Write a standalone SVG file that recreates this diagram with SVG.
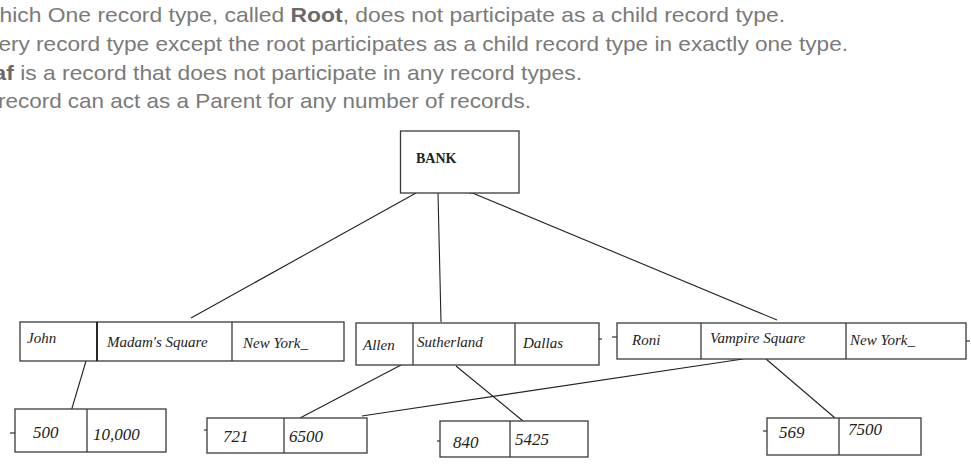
<svg xmlns="http://www.w3.org/2000/svg" width="971" height="466" viewBox="0 0 971 466">
<style>
.hdr{font-family:"Liberation Sans",Arial,sans-serif;font-size:21px;fill:#7a7a7a}
.hdr .b{font-weight:bold;fill:#6a6a6a}
.box{fill:#fff;stroke:#3a3a3a;stroke-width:1.3}
.div{stroke:#3a3a3a;stroke-width:1.3}
.cell{font-family:"Liberation Serif","Times New Roman",serif;font-style:italic;font-size:15px;fill:#222}
.num{font-family:"Liberation Serif","Times New Roman",serif;font-style:italic;font-size:17px;fill:#222}
.bank{font-family:"Liberation Serif","Times New Roman",serif;font-weight:bold;font-size:14px;fill:#222}
.con{stroke:#222;stroke-width:1.1;fill:none}
.tick{stroke:#333;stroke-width:1.2}
</style>
<rect width="971" height="466" fill="#fff"/>
<g id="intro">
<text class="hdr" x="-17" y="22" textLength="802" lengthAdjust="spacingAndGlyphs">which One record type, called <tspan class="b">Root</tspan>, does not participate as a child  record type.</text>
<text class="hdr" x="-28" y="51" textLength="876" lengthAdjust="spacingAndGlyphs">Every record type except the root participates as a child record type in exactly one type.</text>
<text class="hdr" x="-33" y="80" textLength="615" lengthAdjust="spacingAndGlyphs"><tspan class="b">Leaf</tspan> is a record that does not participate in any record types.</text>
<text class="hdr" x="-22" y="108" textLength="553" lengthAdjust="spacingAndGlyphs">A record can act as a Parent for any number of records.</text>
</g>
<g id="connectors">
<line class="con" x1="416" y1="193" x2="191" y2="318"/>
<line class="con" x1="438" y1="193" x2="441" y2="322"/>
<line class="con" x1="470" y1="192" x2="777" y2="320"/>
<line class="con" x1="466" y1="188" x2="471" y2="194"/>
<line class="con" x1="86" y1="361" x2="70" y2="415"/>
<line class="con" x1="401" y1="365" x2="300" y2="418"/>
<line class="con" x1="456" y1="366" x2="523" y2="421"/>
<polyline class="con" points="743,359 375,414 362,416"/>
<line class="con" x1="766" y1="359" x2="835" y2="418"/>
</g>
<g id="bank">
<rect class="box" x="400.5" y="131" width="118.5" height="62"/>
<text class="bank" x="416" y="163">BANK</text>
</g>
<g id="john">
<rect class="box" x="20" y="322" width="324" height="39"/>
<line class="div" x1="97" y1="322" x2="97" y2="361" style="stroke-width:1.8;stroke:#111"/>
<line class="div" x1="232" y1="322" x2="232" y2="361"/>
<text class="cell" x="27" y="343">John</text>
<text class="cell" x="107" y="347">Madam's Square</text>
<text class="cell" x="243" y="348">New York_</text>
</g>
<g id="allen">
<rect class="box" x="356" y="323" width="243" height="42"/>
<line class="div" x1="413" y1="323" x2="413" y2="365"/>
<line class="div" x1="515" y1="323" x2="515" y2="365"/>
<line class="tick" x1="599" y1="339" x2="602" y2="339"/>
<text class="cell" x="363" y="350">Allen</text>
<text class="cell" x="417" y="347">Sutherland</text>
<text class="cell" x="523" y="348">Dallas</text>
</g>
<g id="roni">
<rect class="box" x="617" y="323" width="349" height="36"/>
<line class="div" x1="701" y1="323" x2="701" y2="359"/>
<line class="div" x1="846" y1="323" x2="846" y2="359"/>
<line class="tick" x1="612" y1="337" x2="617" y2="337"/>
<line class="tick" x1="966" y1="341" x2="970" y2="341"/>
<text class="cell" x="632" y="345">Roni</text>
<text class="cell" x="710" y="343">Vampire Square</text>
<text class="cell" x="850" y="345">New  York_</text>
</g>
<g id="acc500">
<rect class="box" x="15" y="409" width="151" height="43"/>
<line class="div" x1="87" y1="409" x2="87" y2="452"/>
<line class="tick" x1="10" y1="433" x2="15" y2="433"/>
<text class="num" x="33" y="438">500</text>
<text class="num" x="93" y="440">10,000</text>
</g>
<g id="acc721">
<rect class="box" x="207" y="418" width="160" height="35"/>
<line class="div" x1="284" y1="418" x2="284" y2="453"/>
<line class="tick" x1="204" y1="430" x2="207" y2="430"/>
<text class="num" x="223" y="442">721</text>
<text class="num" x="289" y="442">6500</text>
</g>
<g id="acc840">
<rect class="box" x="440" y="421" width="148" height="36"/>
<line class="div" x1="510" y1="421" x2="510" y2="457"/>
<line class="tick" x1="437" y1="441" x2="440" y2="441"/>
<text class="num" x="453" y="448">840</text>
<text class="num" x="515" y="445">5425</text>
</g>
<g id="acc569">
<rect class="box" x="767" y="418" width="154" height="37"/>
<line class="div" x1="839" y1="418" x2="839" y2="455"/>
<line class="tick" x1="763" y1="431" x2="767" y2="431"/>
<text class="num" x="779" y="438">569</text>
<text class="num" x="848" y="435">7500</text>
</g>
</svg>
